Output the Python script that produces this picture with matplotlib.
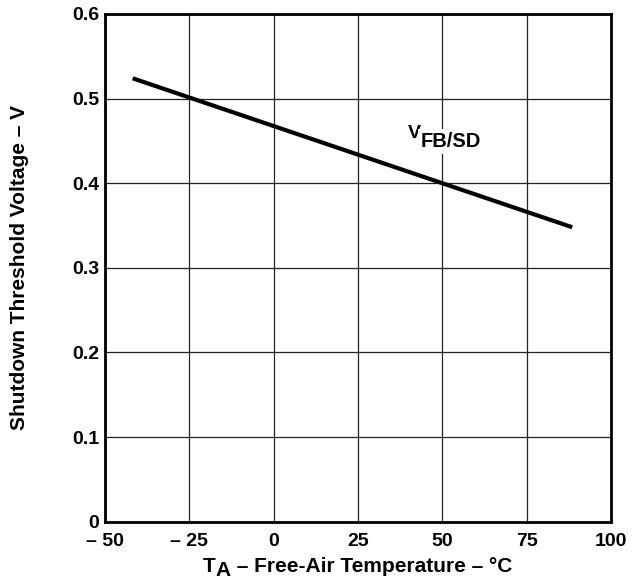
import matplotlib
matplotlib.use('Agg')
import matplotlib.pyplot as plt

# --- Data ---
temp_c = [-41.8, 88.5]
v_shutdown = [0.524, 0.348]

x_ticks = [-50, -25, 0, 25, 50, 75, 100]
x_labels = ['\u2013 50', '\u2013 25', '0', '25', '50', '75', '100']
y_ticks = [0, 0.1, 0.2, 0.3, 0.4, 0.5, 0.6]
y_labels = ['0', '0.1', '0.2', '0.3', '0.4', '0.5', '0.6']

plt.rcParams['font.family'] = ['Liberation Sans', 'DejaVu Sans']
plt.rcParams['font.weight'] = 'bold'

fig = plt.figure(figsize=(6.34, 5.8), dpi=100)
ax = fig.add_axes([0.1656, 0.1005, 0.7981, 0.8754])

ax.plot(temp_c, v_shutdown, color='black', linewidth=3, solid_capstyle='butt', zorder=3)

ax.set_xlim(-50, 100)
ax.set_ylim(0, 0.6)
ax.set_xticks(x_ticks)
ax.set_xticklabels(x_labels)
ax.set_yticks(y_ticks)
ax.set_yticklabels(y_labels)
ax.tick_params(length=0, labelsize=14)
ax.tick_params(axis='x', pad=8)
ax.tick_params(axis='y', pad=4)
ax.grid(True, color='#222222', linewidth=0.9)
for s in ax.spines.values():
    s.set_linewidth(2)
    s.set_zorder(5)

# curve label V_FB/SD (full-size lowered subscript)
box = dict(facecolor='white', edgecolor='none', pad=2)
tv = ax.text(39.8, 0.453, 'V', fontsize=14, fontweight='bold', va='baseline', bbox=box, zorder=4)
ax.annotate('FB/SD', xy=(1, 0), xycoords=tv, xytext=(0, -6), textcoords='offset points',
            fontsize=14.5, fontweight='bold', va='bottom', ha='left', bbox=box, zorder=4)

# x label: T_A - Free-Air Temperature - °C
tt = fig.text(203 / 634, 8 / 580, 'T', fontsize=15, fontweight='bold', va='baseline', ha='left')
ta = ax.annotate('A', xy=(1, 0), xycoords=tt, xytext=(0, -3), textcoords='offset points',
                 fontsize=15, fontweight='bold', va='bottom', ha='left', annotation_clip=False)
ax.annotate(' \u2013 Free-Air Temperature \u2013 \u00b0C', xy=(1, 0), xycoords=ta, xytext=(0, 3),
            textcoords='offset points', fontsize=15, fontweight='bold', va='bottom', ha='left',
            annotation_clip=False)

# y label
fig.text(19.5 / 634, 1 - 0.5 * (102 + 433) / 580, 'Shutdown Threshold Voltage \u2013 V',
         fontsize=15, fontweight='bold', rotation=90, ha='center', va='center')

fig.savefig('out.png', dpi=100)
